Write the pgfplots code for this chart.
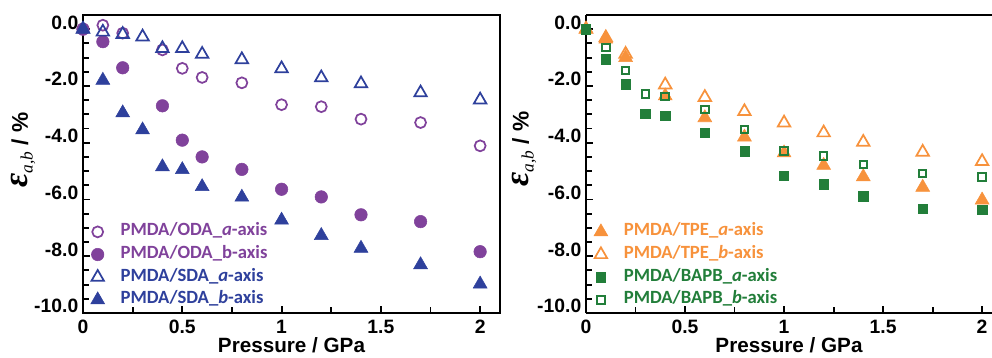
\documentclass[border=0pt]{standalone}
\usepackage{pgfplots}
\pgfplotsset{compat=1.18}
\usepackage{fontspec}
\setmainfont{Liberation Sans}
\newfontfamily\calib{Carlito}
\newfontfamily\tnr{Liberation Serif}
\definecolor{cPur}{RGB}{128,66,155}
\definecolor{cBlu}{RGB}{46,64,156}
\definecolor{cOra}{RGB}{247,146,60}
\definecolor{cGrn}{RGB}{34,126,58}
\newcommand{\ylab}{{\tnr\bfseries\itshape\fontsize{26}{26}\selectfont ε}\raisebox{-0.7ex}{\tnr\itshape\fontsize{13}{13}\selectfont a,b}\hspace{5pt}{\bfseries\fontsize{17}{18}\selectfont / \%}}
\pgfplotsset{
  myaxis/.style={
    scale only axis,
    height=223.5pt,
    xmin=0, ymin=-10, ymax=0.5,
    axis line style={line width=1.8pt},
    tick align=inside,
    tick pos=left,
    major tick length=5.5pt, minor tick length=4.5pt,
    every tick/.append style={black, line width=1.4pt},
    xtick={0,0.5,1,1.5,2}, xticklabels={0,0.5,1,1.5,2},
    minor xtick={0.25,0.75,1.25,1.75},
    ytick={-10,-8,-6,-4,-2,0}, yticklabels={-10.0,-8.0,-6.0,-4.0,-2.0,0.0},
    minor ytick={-9.5,-9,-8.5,-7.5,-7,-6.5,-5.5,-5,-4.5,-3.5,-3,-2.5,-1.5,-1,-0.5},
    ticklabel style={font=\bfseries\fontsize{14.5}{16}\selectfont},
    yticklabel style={yshift=5pt},
    xticklabel style={inner sep=1pt, yshift=-4pt},
    xlabel={Pressure / GPa},
    every axis x label/.style={at={(axis description cs:0.5,0)}, anchor=center, yshift=-24pt,
      inner sep=0pt, font=\bfseries\fontsize{15.5}{18}\selectfont},
    ylabel={\ylab},
    legend cell align=left,
    legend style={draw=none, fill=none, inner sep=0pt, column sep=12pt, row sep=5pt,
      font=\calib\bfseries\fontsize{14}{15}\selectfont,
      nodes={inner sep=0pt, text height=9pt, text depth=3pt}},
  },
  oa/.style={only marks, mark=o, mark size=4.1pt, mark options={line width=1.3pt, draw=cPur, fill=none}},
  ob/.style={only marks, mark=*, mark size=4.7pt, mark options={draw=cPur, fill=cPur}},
  sa/.style={only marks, mark=triangle, mark size=5.4pt, mark options={line width=1.3pt, draw=cBlu, fill=none}},
  sb/.style={only marks, mark=triangle*, mark size=6pt, mark options={draw=cBlu, fill=cBlu}},
  ta/.style={only marks, mark=triangle*, mark size=6pt, mark options={draw=cOra, fill=cOra}},
  tb/.style={only marks, mark=triangle, mark size=5.4pt, mark options={line width=1.3pt, draw=cOra, fill=white}},
  ba/.style={only marks, mark=square*, mark size=3.5pt, mark options={draw=cGrn, fill=cGrn}},
  bb/.style={only marks, mark=square, mark size=2.8pt, mark options={line width=1.5pt, draw=cGrn, fill=white}},
}
\begin{document}
\begin{tikzpicture}
\useasboundingbox (0,0) rectangle (744pt,267.75pt);
\begin{axis}[myaxis, at={(62.25pt,33pt)}, anchor=south west,
  width=312.75pt, xmax=2.1,
  every axis y label/.style={at={(axis description cs:-0.143,0.547)}, rotate=90, anchor=center},
  legend style={at={(rel axis cs:0.018,0.3)}, anchor=north west}]
\addplot[oa] coordinates {(0,0) (0.1,0.14) (0.2,-0.14) (0.4,-0.73) (0.5,-1.38) (0.6,-1.70) (0.8,-1.89) (1.0,-2.66) (1.2,-2.73) (1.4,-3.17) (1.7,-3.29) (2.0,-4.11)};
\addlegendentry{\textcolor{cPur}{PMDA/ODA\_\textit{a}-axis}}
\addplot[ob] coordinates {(0,0) (0.1,-0.44) (0.2,-1.36) (0.4,-2.70) (0.5,-3.91) (0.6,-4.50) (0.8,-4.94) (1.0,-5.64) (1.2,-5.91) (1.4,-6.54) (1.7,-6.78) (2.0,-7.84)};
\addlegendentry{\textcolor{cPur}{PMDA/ODA\_b-axis}}
\addplot[sa] coordinates {(0,0) (0.1,-0.1) (0.2,-0.18) (0.3,-0.27) (0.4,-0.68) (0.5,-0.68) (0.6,-0.88) (0.8,-1.07) (1.0,-1.39) (1.2,-1.71) (1.4,-1.92) (1.7,-2.24) (2.0,-2.49)};
\addlegendentry{\textcolor{cBlu}{PMDA/SDA\_\textit{a}-axis}}
\addplot[sb] coordinates {(0,0) (0.1,-1.8) (0.2,-2.95) (0.3,-3.55) (0.4,-4.85) (0.5,-4.95) (0.6,-5.55) (0.8,-5.92) (1.0,-6.73) (1.2,-7.27) (1.4,-7.72) (1.7,-8.3) (2.0,-8.98)};
\addlegendentry{\textcolor{cBlu}{PMDA/SDA\_\textit{b}-axis}}
\end{axis}
\begin{axis}[myaxis, at={(439.5pt,33pt)}, anchor=south west,
  width=304.5pt, xmax=2.05,
  axis x line*=box, axis y line*=left,
  every axis y label/.style={at={(axis description cs:-0.152,0.55)}, rotate=90, anchor=center},
  legend style={at={(rel axis cs:0.019,0.3)}, anchor=north west}]
\addplot[ta] coordinates {(0,0) (0.1,-0.35) (0.2,-1.0) (0.4,-2.35) (0.6,-3.12) (0.8,-3.8) (1.0,-4.36) (1.2,-4.8) (1.4,-5.2) (1.7,-5.57) (2.0,-6.02)};
\addlegendentry{\textcolor{cOra}{PMDA/TPE\_\textit{a}-axis}}
\addplot[tb] coordinates {(0,0) (0.1,-0.3) (0.2,-0.88) (0.4,-1.96) (0.6,-2.4) (0.8,-2.9) (1.0,-3.3) (1.2,-3.65) (1.4,-3.98) (1.7,-4.33) (2.0,-4.66)};
\addlegendentry{\textcolor{cOra}{PMDA/TPE\_\textit{b}-axis}}
\addplot[ba] coordinates {(0,0) (0.1,-1.06) (0.2,-1.94) (0.3,-2.97) (0.4,-3.06) (0.6,-3.64) (0.8,-4.30) (1.0,-5.17) (1.2,-5.47) (1.4,-5.89) (1.7,-6.33) (2.0,-6.36)};
\addlegendentry{\textcolor{cGrn}{PMDA/BAPB\_\textit{a}-axis}}
\addplot[bb] coordinates {(0,0) (0.1,-0.65) (0.2,-1.46) (0.3,-2.29) (0.4,-2.38) (0.6,-2.83) (0.8,-3.53) (1.0,-4.29) (1.2,-4.47) (1.4,-4.77) (1.7,-5.09) (2.0,-5.2)};
\addlegendentry{\textcolor{cGrn}{PMDA/BAPB\_\textit{b}-axis}}
\end{axis}
\end{tikzpicture}
\end{document}
